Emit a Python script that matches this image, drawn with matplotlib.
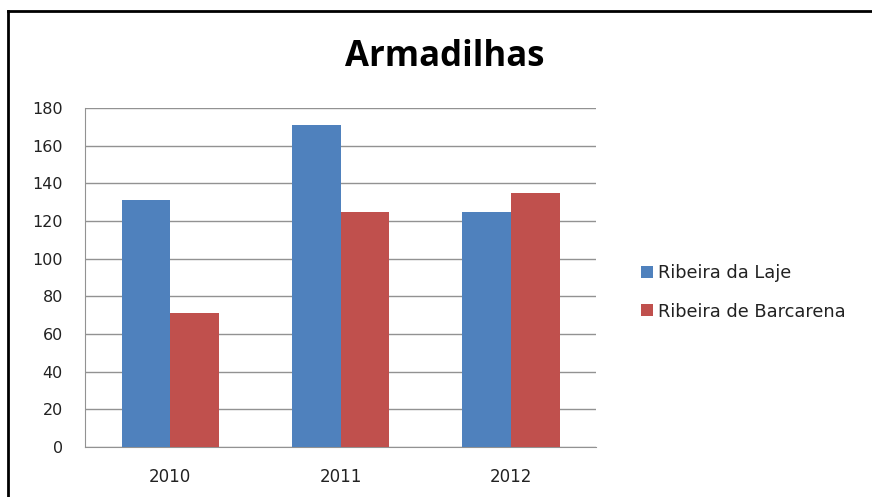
import matplotlib
matplotlib.use("Agg")
import matplotlib.pyplot as plt
from matplotlib.lines import Line2D
import numpy as np

# dados
anos = ["2010", "2011", "2012"]
laje = [131, 171, 125]
barcarena = [71, 125, 135]
series_nomes = ["Ribeira da Laje", "Ribeira de Barcarena"]
cores = ["#4F81BD", "#C0504D"]

W, H = 872, 497
fig = plt.figure(figsize=(W / 100, H / 100), dpi=100, facecolor="white")
ax = fig.add_axes([85 / W, 1 - 447 / H, (596 - 85) / W, (447 - 108) / H])

x = np.arange(len(anos))
larg = 1 / 3.5  # gap de 150% como no Excel
ax.bar(x - larg / 2, laje, larg, color=cores[0], label=series_nomes[0], zorder=3)
ax.bar(x + larg / 2, barcarena, larg, color=cores[1], label=series_nomes[1], zorder=3)

ax.set_xlim(-0.5, 2.5)
ax.set_ylim(0, 180)
ax.set_yticks(range(0, 181, 20))
ax.set_xticks(x)
ax.set_xticklabels(anos)
ax.yaxis.grid(True, color="#929292", linewidth=1.0, zorder=0)
for s in ["top", "right"]:
    ax.spines[s].set_visible(False)
ax.spines["left"].set_color("#929292")
ax.spines["bottom"].set_color("#929292")
ax.tick_params(axis="y", length=0, pad=16, labelsize=11.5, labelcolor="#222222")
ax.tick_params(axis="x", length=0, pad=15, labelsize=12, labelcolor="#222222")

fig.text(445 / W, 1 - 57 / H, "Armadilhas", ha="center", va="center",
         fontsize=25, fontweight="bold", family="Open Sans")

fig.legend(loc="upper left", bbox_to_anchor=(634 / W, 1 - 257 / H), frameon=False,
           prop={"size": 12.8}, handlelength=0.65, handleheight=0.65, handletextpad=0.3,
           labelspacing=1.15, borderaxespad=0, labelcolor="#222222")

# moldura
fig.add_artist(Line2D([8 / W, 1], [1 - 11 / H] * 2, color="black", linewidth=2))
fig.add_artist(Line2D([8 / W] * 2, [0, 1 - 11 / H], color="black", linewidth=2))

fig.savefig("out.png", dpi=100)
